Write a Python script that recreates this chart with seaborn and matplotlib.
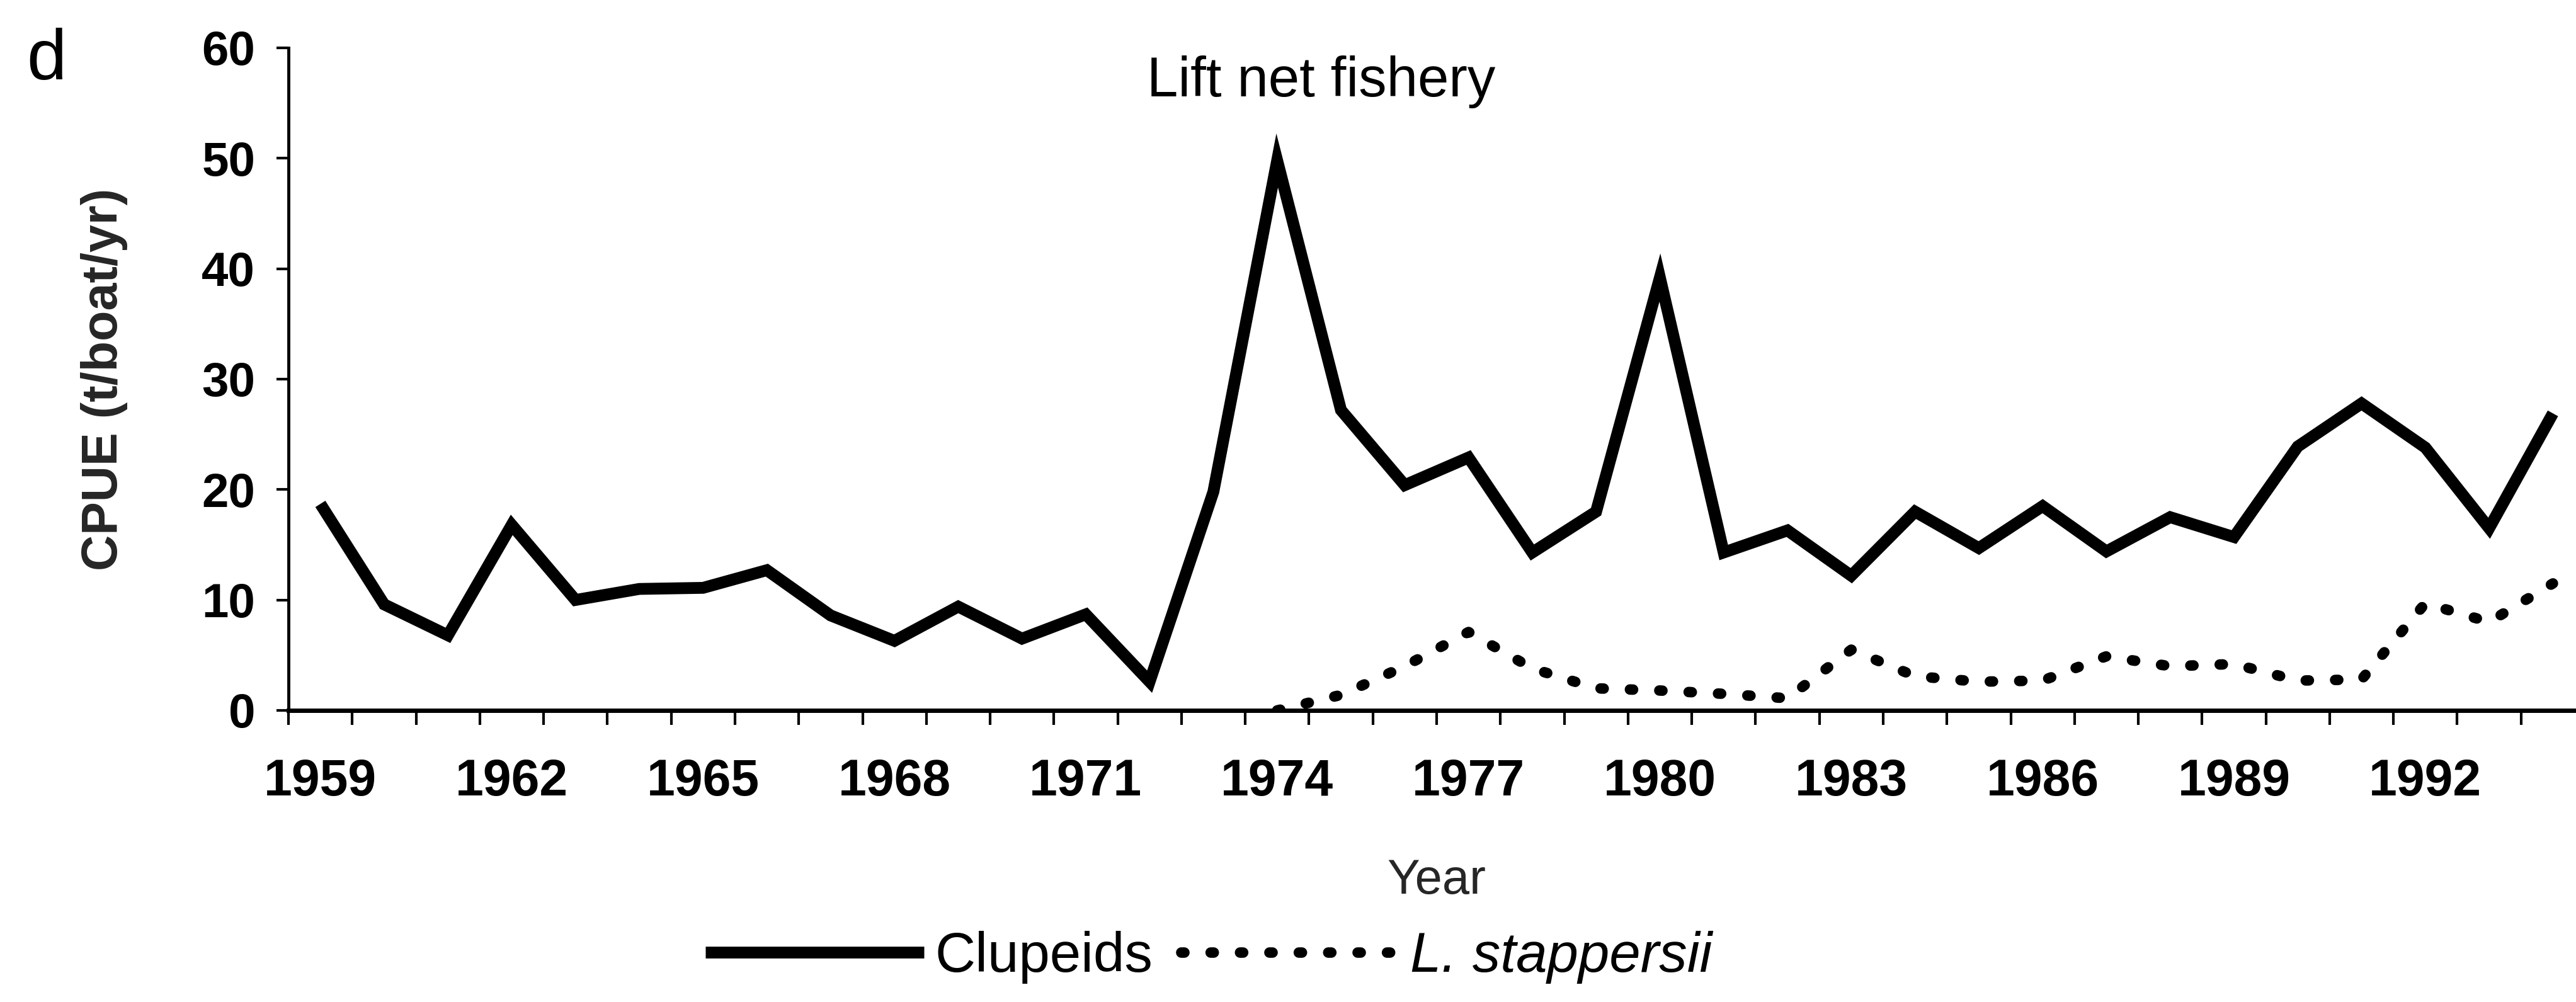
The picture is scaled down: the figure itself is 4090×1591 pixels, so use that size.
import numpy as np
import pandas as pd
import matplotlib
matplotlib.use("Agg")
import matplotlib.pyplot as plt
import seaborn as sns

# ---------------- data ----------------
years = list(range(1959, 1995))
clupeids = [18.7, 9.6, 6.8, 16.8, 10.0, 11.0, 11.1, 12.7, 8.6, 6.3,
            9.4, 6.5, 8.7, 2.6, 19.8, 49.8, 27.2, 20.4, 22.9, 14.3,
            18.0, 39.2, 14.3, 16.3, 12.2, 18.0, 14.7, 18.5, 14.4, 17.5,
            15.7, 23.9, 27.8, 23.8, 16.5, 26.9]
stappersii = [None, None, None, None, None, None, None, None, None, None,
              None, None, None, None, None, 0.0, 1.4, 4.0, 7.1, 3.8,
              2.0, 1.8, 1.5, 1.1, 5.5, 3.1, 2.6, 2.7, 4.9, 4.0,
              4.2, 2.7, 2.8, 9.7, 8.0, 11.5]
label_years = [1959, 1962, 1965, 1968, 1971, 1974, 1977, 1980, 1983, 1986, 1989, 1992]
y_ticks = [0, 10, 20, 30, 40, 50, 60]
series_names = ["Clupeids", "L. stappersii"]
title_text = "Lift net fishery"
panel_label = "d"
x_label = "Year"
y_label = "CPUE (t/boat/yr)"

df_c = pd.DataFrame({"Year": years, "CPUE": clupeids})
df_s = pd.DataFrame({"Year": years, "CPUE": pd.to_numeric(pd.Series(stappersii), errors="coerce")})

# ---------------- style ----------------
sns.set_theme(style="ticks")
plt.rcParams["font.family"] = ["Liberation Sans", "DejaVu Sans"]
plt.rcParams["text.color"] = "black"
plt.rcParams["axes.edgecolor"] = "black"
plt.rcParams["xtick.color"] = "black"
plt.rcParams["ytick.color"] = "black"

W, H = 4091, 1591
DPI = 100
fig = plt.figure(figsize=(W / DPI, H / DPI), dpi=DPI)
fig.patch.set_facecolor("white")

# axes placement (pixels in the reference)
ax_left_px, ax_right_px = 458, 4104
ax_top_px, ax_bottom_px = 76, 1128
ax = fig.add_axes([ax_left_px / W, 1 - ax_bottom_px / H,
                   (ax_right_px - ax_left_px) / W, (ax_bottom_px - ax_top_px) / H])
ax.set_facecolor("white")

sns.lineplot(data=df_c, x="Year", y="CPUE", ax=ax, color="black",
             linewidth=13.5, label=series_names[0], solid_joinstyle="miter",
             solid_capstyle="butt")
sns.lineplot(data=df_s, x="Year", y="CPUE", ax=ax, color="black",
             linewidth=12, label=series_names[1], dashes=False)
ax.lines[1].set_dashes((0.3, 2.5))
ax.lines[1].set_dash_capstyle("round")

ax.set_xlim(years[0] - 0.5, years[-1] + 0.5)
ax.set_ylim(0, 60)

for s in ["top", "right"]:
    ax.spines[s].set_visible(False)
ax.spines["left"].set_linewidth(3.5)
ax.spines["bottom"].set_linewidth(5)

# category boundaries get tick marks, labels sit at category centres
ax.set_xticks(np.arange(years[0] - 0.5, years[-1] + 1.0, 1.0))
ax.set_xticklabels([])
ax.set_xticks(label_years, minor=True)
ax.set_xticklabels([str(y) for y in label_years], minor=True,
                   fontsize=58, fontweight="bold")
ax.tick_params(axis="x", which="major", direction="out", length=16.5, width=3)
ax.tick_params(axis="x", which="minor", length=0, pad=55)

ax.set_yticks(y_ticks)
ax.set_yticklabels([str(v) for v in y_ticks], fontsize=55, fontweight="bold")
ax.tick_params(axis="y", which="major", direction="out", length=14, width=3, pad=24)

ax.set_xlabel(x_label, fontsize=56)
ax.xaxis.set_label_coords(0.5, -0.222)
ax.xaxis.label.set_va("top")
ax.set_ylabel(y_label, fontsize=57, fontweight="bold")
ax.yaxis.set_label_coords(-0.070, 0.5)

fig.text(2098 / W, 1 - 153 / H, title_text, ha="center", va="baseline", fontsize=64)
fig.text(42 / W, 1 - 44 / H, panel_label, ha="left", va="top", fontsize=82)

leg = ax.legend(loc="center left", bbox_to_anchor=(1120 / W, 1 - 1520 / H),
                bbox_transform=fig.transFigure, frameon=False, ncol=2,
                borderpad=0, borderaxespad=0, handlelength=3.9,
                handletextpad=0.2, columnspacing=0.5, fontsize=64)
leg.get_texts()[1].set_style("italic")
for h in leg.legend_handles:
    h.set_color("black")

fig.savefig("out.png", dpi=DPI, facecolor="white")
